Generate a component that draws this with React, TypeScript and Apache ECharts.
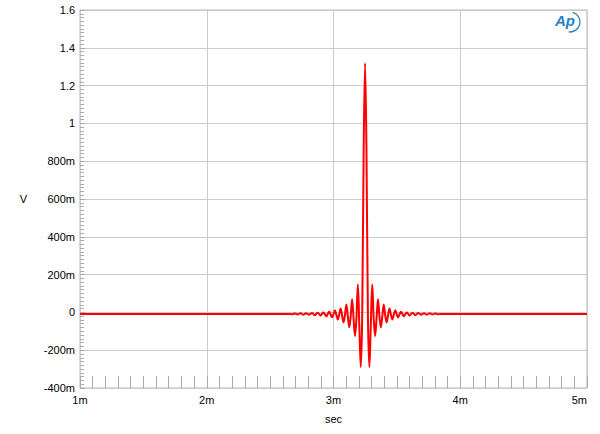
import React, { useEffect, useRef } from "react";
import * as echarts from "echarts";

// Impulse response sampled at half the 44.1 kHz sample period around the peak
const peakTime = 3.249; // ms
const halfStep = 0.01134; // ms
const baseline = -0.008; // V
const xStart = 1;
const xEnd = 5;

// one side of the ringing (k = 0 .. 52 half-steps from the peak), mirrored for the other side
const sideValues = [
  1.318, 0.84, -0.02, -0.29, -0.07, 0.148, -0.03, -0.125, -0.03, 0.069,
  -0.02, -0.079, -0.02, 0.042, -0.015, -0.053, -0.015, 0.021, -0.012, -0.037,
  -0.012, 0.011, -0.01, -0.026, -0.01, 0.004, -0.009, -0.021, -0.009, 0.0,
  -0.008, -0.017, -0.008, -0.002, -0.008, -0.015, -0.008, -0.003, -0.008, -0.013,
  -0.008, -0.004, -0.008, -0.012, -0.008, -0.005, -0.008, -0.011, -0.008, -0.006,
  -0.008, -0.01, -0.008,
];

const yTickLabels: Record<string, string> = {
  "-0.4": "-400m", "-0.2": "-200m", "0": "0", "0.2": "200m", "0.4": "400m",
  "0.6": "600m", "0.8": "800m", "1": "1", "1.2": "1.2", "1.4": "1.4", "1.6": "1.6",
};
const xTickLabels: Record<string, string> = { "1": "1m", "2": "2m", "3": "3m", "4": "4m", "5": "5m" };

function buildSeries(): [number, number][] {
  const pts: [number, number][] = [[xStart, baseline]];
  const n = sideValues.length;
  for (let k = n - 1; k >= 1; k--) pts.push([peakTime - k * halfStep, sideValues[k]]);
  for (let k = 0; k < n; k++) pts.push([peakTime + k * halfStep, sideValues[k]]);
  pts.push([xEnd, baseline]);
  return pts;
}

export default function App() {
  const ref = useRef<HTMLDivElement>(null);
  useEffect(() => {
    if (!ref.current) return;
    const chart = echarts.init(ref.current, null, { renderer: "svg" });
    const font = "'Liberation Sans', Arial, sans-serif";
    chart.setOption({
      animation: false,
      backgroundColor: "#ffffff",
      grid: {
        left: 80, right: 13, top: 10, bottom: 46, show: true,
        borderColor: "#b4b4b4", borderWidth: 1, backgroundColor: "transparent",
      },
      xAxis: {
        type: "value", min: xStart, max: xEnd, interval: 1,
        name: "sec", nameLocation: "middle", nameGap: 25,
        nameTextStyle: { fontFamily: font, fontSize: 11, color: "#000" },
        axisLine: { show: false, onZero: false },
        axisTick: { show: true, inside: true, length: 12, lineStyle: { color: "#aaaaaa" } },
        minorTick: { show: true, splitNumber: 10, length: 12, lineStyle: { color: "#aaaaaa", width: 1 } },
        splitLine: { show: true, lineStyle: { color: "#cccccc", width: 1 } },
        axisLabel: {
          fontFamily: font, fontSize: 11, color: "#000", margin: 6,
          alignMaxLabel: "right",
          formatter: (v: number) => xTickLabels[String(v)] ?? "",
        },
      },
      yAxis: {
        type: "value", min: -0.4, max: 1.6, interval: 0.2,
        name: "V", nameLocation: "middle", nameGap: 53, nameRotate: 0,
        nameTextStyle: { fontFamily: font, fontSize: 11, color: "#000" },
        axisLine: { show: false, onZero: false },
        axisTick: { show: true, inside: true, length: 5, lineStyle: { color: "#aaaaaa" } },
        minorTick: { show: true, splitNumber: 10, length: 4, lineStyle: { color: "#aaaaaa", width: 1 } },
        splitLine: { show: true, lineStyle: { color: "#cccccc", width: 1 } },
        axisLabel: {
          fontFamily: font, fontSize: 11, color: "#000", margin: 5,
          formatter: (v: number) => yTickLabels[String(Math.round(v * 10) / 10)] ?? "",
        },
      },
      series: [
        {
          type: "line",
          data: buildSeries(),
          showSymbol: false,
          smooth: 0.35,
          lineStyle: { color: "#ff0000", width: 2 },
        },
      ],
      graphic: [
        {
          type: "text", left: 555, top: 13,
          style: {
            text: "Ap", fill: "#2a7fc8", fontFamily: font, fontSize: 15,
            fontWeight: "bold", fontStyle: "italic",
          },
        },
        {
          type: "arc", shape: { cx: 570, cy: 22, r: 10, startAngle: -1.3, endAngle: 1.7 },
          style: { stroke: "#2a7fc8", lineWidth: 1.3, fill: "none" },
        },
      ],
    });
    return () => chart.dispose();
  }, []);
  return (
    <div style={{ position: "fixed", left: 0, top: 0, width: 600, height: 434, background: "#fff" }}>
      <div ref={ref} style={{ width: 600, height: 434 }} />
    </div>
  );
}
